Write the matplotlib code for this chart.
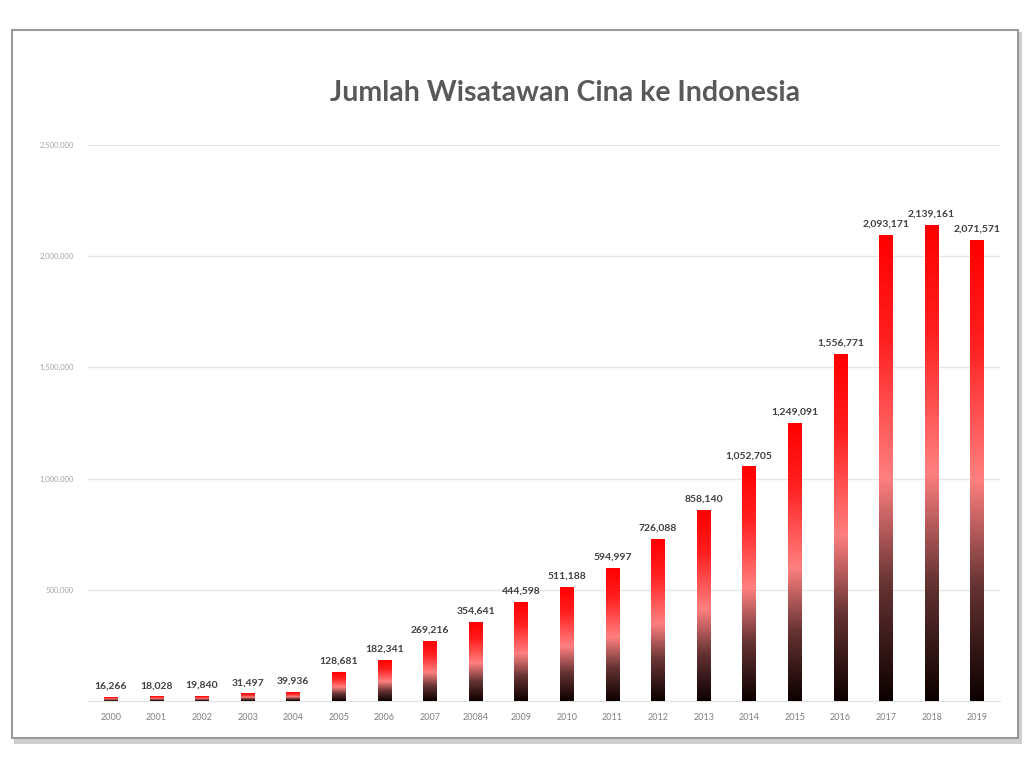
import numpy as np
import matplotlib
matplotlib.use("Agg")
import matplotlib.pyplot as plt
from matplotlib.colors import LinearSegmentedColormap
from matplotlib.patches import Rectangle

plt.rcParams['font.family'] = ['Lato', 'DejaVu Sans']

# data
years = ['2000', '2001', '2002', '2003', '2004', '2005', '2006', '2007', '20084', '2009',
         '2010', '2011', '2012', '2013', '2014', '2015', '2016', '2017', '2018', '2019']
visitors = [16266, 18028, 19840, 31497, 39936, 128681, 182341, 269216, 354641, 444598,
            511188, 594997, 726088, 858140, 1052705, 1249091, 1556771, 2093171, 2139161, 2071571]
yticks = [500000, 1000000, 1500000, 2000000, 2500000]

fig = plt.figure(figsize=(10.24, 7.68), dpi=100)

# framed card with shadow
shadow = Rectangle((14 / 1024, 1 - 744 / 768), 1008 / 1024, 712 / 768, transform=fig.transFigure,
                   facecolor='#b0b0b0', edgecolor='none', alpha=0.6, zorder=-3)
card = Rectangle((12 / 1024, 1 - 738 / 768), 1006 / 1024, 708 / 768, transform=fig.transFigure,
                 facecolor='white', edgecolor='#9a9a9a', linewidth=1.5, zorder=-2)
fig.patches.extend([shadow, card])

ax = fig.add_axes([88 / 1024, 67 / 768, 912 / 1024, 556 / 768])
ax.set_facecolor('none')

x = np.arange(len(years))
bars = ax.bar(x, visitors, width=0.3, color='none', zorder=3)

# per-bar gradient: black at bottom, pale red in the middle, red on top
cmap = LinearSegmentedColormap.from_list('grad', [
    (0.0, (0.05, 0.0, 0.0)),
    (0.25, (0.40, 0.20, 0.20)),
    (0.48, (1.0, 0.50, 0.50)),
    (0.78, (1.0, 0.12, 0.12)),
    (1.0, (1.0, 0.0, 0.0)),
])
grad = np.linspace(1, 0, 256).reshape(-1, 1)
for b in bars:
    x0, w, h = b.get_x(), b.get_width(), b.get_height()
    ax.imshow(grad, cmap=cmap, extent=[x0, x0 + w, 0, h], aspect='auto', zorder=3,
              interpolation='bilinear')

for xi, v in zip(x, visitors):
    ax.text(xi, v + 30000, f'{v:,}', ha='center', va='bottom', fontsize=7.5,
            color='#404040', fontweight='bold', zorder=4)

ax.set_xlim(-0.5, len(years) - 0.5)
ax.set_ylim(0, 2500000)
ax.set_xticks(x)
ax.set_xticklabels(years, fontsize=6.5, color='#7f7f7f')
ax.set_yticks(yticks)
ax.set_yticklabels([f'{t:,}' for t in yticks], fontsize=5.5, color='#a6a6a6')
ax.tick_params(axis='both', length=0)
ax.tick_params(axis='y', pad=10)
ax.tick_params(axis='x', pad=9)
ax.grid(axis='y', color='#e6e6e6', linewidth=1, zorder=0)
ax.set_axisbelow(True)
for s in ['top', 'right', 'left']:
    ax.spines[s].set_visible(False)
ax.spines['bottom'].set_color('#e0e0e0')

fig.text(565 / 1024, 1 - 93 / 768, 'Jumlah Wisatawan Cina ke Indonesia', ha='center', va='center',
         fontsize=20.5, color='#595959', fontweight='bold')

fig.savefig('out.png', dpi=100)
